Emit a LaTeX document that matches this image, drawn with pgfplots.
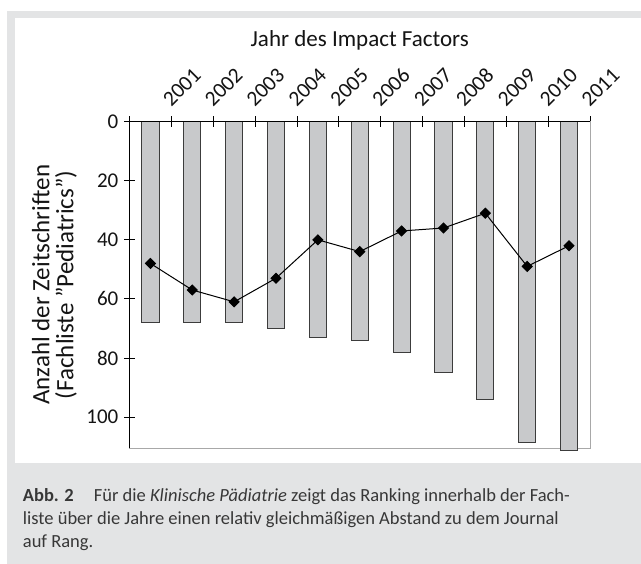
\documentclass[border=0pt]{standalone}
\usepackage{pgfplots}
\pgfplotsset{compat=1.18}
\usepackage{fontspec}
\setmainfont{Carlito}
\definecolor{panelgray}{HTML}{E3E4E5}
\definecolor{barfill}{HTML}{C8C9CB}
\definecolor{barline}{HTML}{3C3C3C}
\definecolor{boxgray}{HTML}{A8A8A8}
\definecolor{txt}{HTML}{141414}
\begin{document}
\begin{tikzpicture}[x=1pt,y=1pt]
\fill[white] (0,0) rectangle (641,-564);
\fill[panelgray] (7,-11) rectangle (641,-564);
\fill[white] (15,-18) rectangle (641,-463);
\begin{axis}[
  at={(129.5pt,-121.7pt)}, anchor=north west,
  scale only axis, width=460.5pt, height=326.3pt,
  xmin=0, xmax=11, ymin=0, ymax=110.5, y dir=reverse,
  clip=false,
  axis line style={boxgray, line width=0.8pt},
  xtick={0,1,2,3,4,5,6,7,8,9,10,11},
  xticklabels={,2001,2002,2003,2004,2005,2006,2007,2008,2009,2010,2011},
  ytick={0,20,40,60,80,100},
  tick align=center, major tick length=11pt,
  tick style={black, line width=0.8pt},
  xtick pos=right, xticklabel pos=right, ytick pos=left,
  /pgf/number format/assume math mode=true,
  xticklabel style={yshift=8.2pt, rotate=45, anchor=south west, inner sep=0pt, font=\fontsize{21.5}{24}\selectfont, text=txt},
  yticklabel style={inner sep=0pt, xshift=-5.5pt, anchor=east, font=\fontsize{21}{24}\selectfont, text=txt},
  title={Jahr des Impact Factors},
  title style={at={(axis description cs:0.5,1.2136)}, anchor=base, inner sep=0pt, font=\fontsize{23}{27}\selectfont, text=txt},
  ylabel={Anzahl der Zeitschriften\\(Fachliste "Pediatrics")},
  ylabel style={at={(axis description cs:-0.114,0.5)}, anchor=south, align=center, inner sep=0pt, font=\fontsize{25}{24}\selectfont, text=txt},
]
\addplot[ybar, bar width=0.41, fill=barfill, draw=barline, line width=1pt]
  coordinates {(0.5,68) (1.5,68) (2.5,68) (3.5,70) (4.5,73) (5.5,74) (6.5,78) (7.5,85) (8.5,94) (9.5,108.5) (10.5,111.5)};
\addplot[black, line width=1pt, mark=square*, mark size=3.5pt, mark options={rotate=45}]
  coordinates {(0.5,48) (1.5,57) (2.5,61) (3.5,53) (4.5,40) (5.5,44) (6.5,37) (7.5,36) (8.5,31) (9.5,49) (10.5,42)};
\draw[black, line width=1pt] (axis cs:0,110.5) -- (axis cs:0,0) -- (axis cs:11,0);
\end{axis}
\node[anchor=base west, inner sep=0pt, align=left, text=txt!85, font=\fontsize{18.5}{22.8}\selectfont] at (22.7,-547.3)
  {\textbf{Abb. 2}\hspace{20pt}Für die \textit{Klinische Pädiatrie} zeigt das Ranking innerhalb der Fach-\\liste über die Jahre einen relativ gleichmäßigen Abstand zu dem Journal\\auf Rang.};
\end{tikzpicture}
\end{document}
